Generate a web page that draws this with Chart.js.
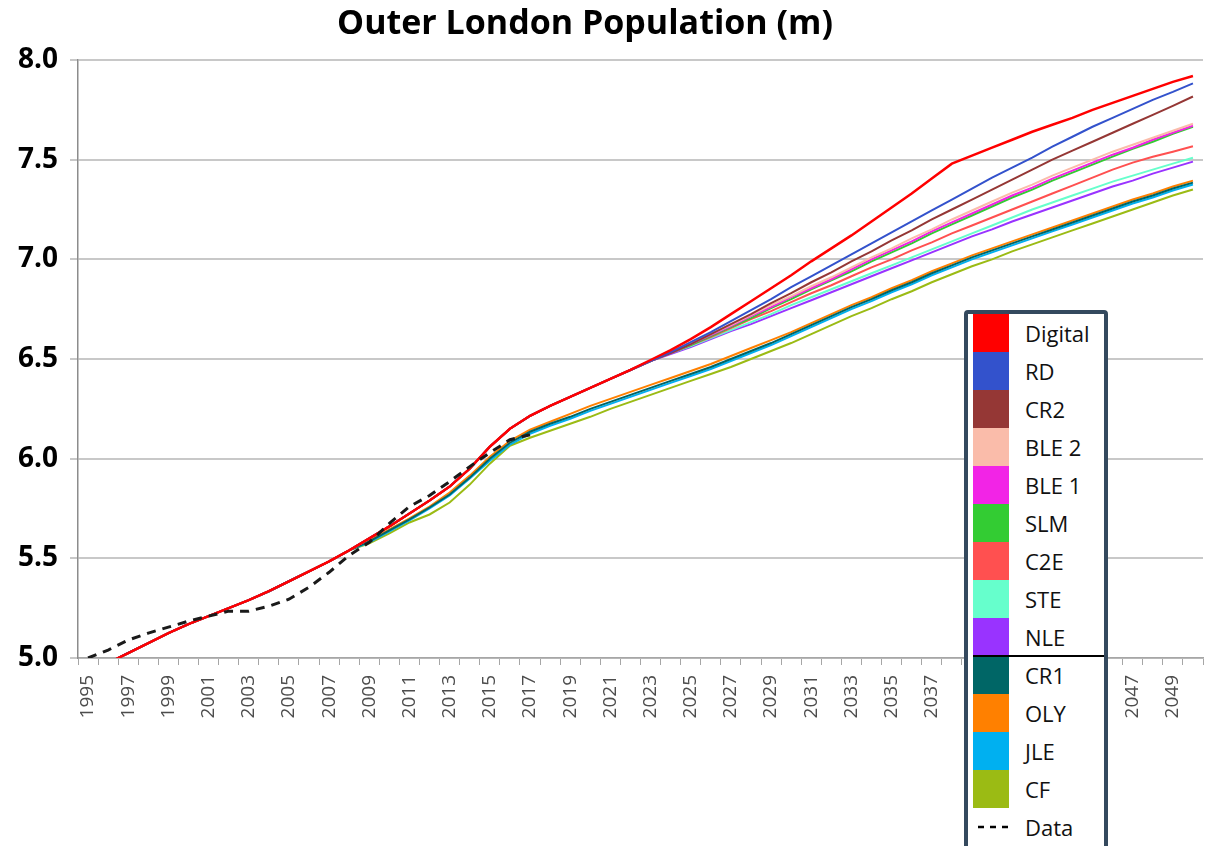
<!DOCTYPE html>
<html>
<head>
<meta charset="utf-8">
<script src="https://cdn.jsdelivr.net/npm/chart.js@4.4.0/dist/chart.umd.min.js"></script>
<style>
html,body{margin:0;padding:0;background:#fff;}
#wrap{position:relative;width:1208px;height:846px;overflow:hidden;}
#c{position:absolute;left:0;top:0;}
#legend{position:absolute;left:964px;top:310px;width:136px;height:540px;border:4px solid #34495e;border-radius:4px;background:#fff;font-family:"Open Sans",sans-serif;font-size:22px;color:#111;box-sizing:content-box;}
.row{position:absolute;left:0;width:136px;height:38px;}
.sw{position:absolute;left:5px;top:0;width:36px;height:38px;}
.tx{position:absolute;left:57px;top:0;line-height:38px;white-space:nowrap;}
.sep{position:absolute;left:5px;width:131px;height:2px;background:#000;}
</style>
</head>
<body>
<div id="wrap">
<canvas id="c" width="1208" height="846"></canvas>
<div id="legend"></div>
</div>
<script>
const titleText = "Outer London Population (m)";

const years = ["1995","1996","1997","1998","1999","2000","2001","2002","2003","2004",
"2005","2006","2007","2008","2009","2010","2011","2012","2013","2014",
"2015","2016","2017","2018","2019","2020","2021","2022","2023","2024",
"2025","2026","2027","2028","2029","2030","2031","2032","2033","2034",
"2035","2036","2037","2038","2039","2040","2041","2042","2043","2044",
"2045","2046","2047","2048","2049","2050"];

const yTicks = [5.0, 5.5, 6.0, 6.5, 7.0, 7.5, 8.0];

// Observed data (dashed)
const dataObserved = [5.00,5.04,5.09,5.125,5.155,5.185,5.21,5.235,5.235,5.26,
5.295,5.355,5.43,5.515,5.58,5.675,5.76,5.815,5.885,5.96,
6.03,6.095,6.12,null,null,null,null,null,null,null,
null,null,null,null,null,null,null,null,null,null,
null,null,null,null,null,null,null,null,null,null,
null,null,null,null,null,null];

const digital = [null,4.975,5.025,5.075,5.125,5.17,5.21,5.25,5.29,5.335,
5.385,5.435,5.485,5.54,5.60,5.66,5.725,5.79,5.86,5.95,
6.06,6.15,6.215,6.265,6.31,6.355,6.40,6.445,6.495,6.545,
6.60,6.66,6.725,6.79,6.855,6.92,6.99,7.055,7.12,7.19,
7.26,7.33,7.405,7.48,7.52,7.56,7.60,7.64,7.675,7.71,
7.75,7.785,7.82,7.855,7.89,7.92];

const rd = [null,4.975,5.025,5.075,5.125,5.17,5.21,5.25,5.29,5.335,
5.385,5.435,5.485,5.54,5.60,5.66,5.725,5.79,5.86,5.95,
6.06,6.15,6.215,6.265,6.31,6.355,6.40,6.445,6.49,6.535,
6.585,6.635,6.69,6.745,6.80,6.86,6.915,6.97,7.025,7.08,
7.135,7.19,7.245,7.30,7.355,7.41,7.46,7.51,7.565,7.615,
7.665,7.71,7.755,7.80,7.84,7.883];

const cr2 = [null,4.975,5.025,5.075,5.125,5.17,5.21,5.25,5.29,5.335,
5.385,5.435,5.485,5.54,5.60,5.66,5.725,5.79,5.86,5.95,
6.06,6.15,6.215,6.265,6.31,6.355,6.40,6.445,6.49,6.53,
6.575,6.625,6.675,6.725,6.78,6.83,6.885,6.935,6.99,7.04,
7.095,7.145,7.20,7.25,7.30,7.35,7.40,7.45,7.50,7.545,
7.59,7.635,7.68,7.725,7.77,7.817];

const ble2 = [null,4.975,5.025,5.075,5.125,5.17,5.21,5.25,5.29,5.335,
5.385,5.435,5.485,5.54,5.60,5.66,5.725,5.79,5.86,5.95,
6.06,6.15,6.215,6.265,6.31,6.355,6.40,6.445,6.49,6.535,
6.58,6.625,6.67,6.72,6.77,6.815,6.865,6.91,6.96,7.01,
7.055,7.105,7.15,7.20,7.245,7.29,7.335,7.375,7.42,7.46,
7.50,7.54,7.575,7.61,7.645,7.68];

const ble1 = [null,4.975,5.025,5.075,5.125,5.17,5.21,5.25,5.29,5.335,
5.385,5.435,5.485,5.54,5.60,5.66,5.725,5.79,5.86,5.95,
6.06,6.15,6.215,6.265,6.31,6.355,6.40,6.445,6.49,6.53,
6.575,6.62,6.665,6.715,6.76,6.81,6.855,6.90,6.95,7.00,
7.045,7.09,7.14,7.185,7.23,7.275,7.32,7.36,7.405,7.445,
7.485,7.525,7.56,7.60,7.635,7.67];

const slm = [null,4.975,5.025,5.075,5.125,5.17,5.21,5.25,5.29,5.335,
5.385,5.435,5.485,5.54,5.60,5.66,5.725,5.79,5.86,5.95,
6.06,6.15,6.215,6.265,6.31,6.355,6.40,6.445,6.49,6.53,
6.57,6.615,6.66,6.705,6.755,6.80,6.85,6.895,6.94,6.99,
7.035,7.08,7.13,7.175,7.22,7.265,7.31,7.35,7.395,7.435,
7.475,7.515,7.555,7.59,7.63,7.665];

const c2e = [null,4.975,5.025,5.075,5.125,5.17,5.21,5.25,5.29,5.335,
5.385,5.435,5.485,5.54,5.60,5.66,5.725,5.79,5.86,5.95,
6.06,6.15,6.215,6.265,6.31,6.355,6.40,6.445,6.49,6.53,
6.57,6.61,6.655,6.70,6.74,6.785,6.83,6.87,6.915,6.96,
7.00,7.045,7.085,7.13,7.17,7.21,7.25,7.29,7.33,7.37,
7.41,7.45,7.485,7.515,7.54,7.567];

const ste = [null,4.975,5.025,5.075,5.125,5.17,5.21,5.25,5.29,5.335,
5.385,5.435,5.485,5.54,5.60,5.66,5.725,5.79,5.86,5.95,
6.06,6.15,6.215,6.265,6.31,6.355,6.40,6.445,6.49,6.53,
6.565,6.605,6.645,6.685,6.725,6.77,6.81,6.85,6.89,6.93,
6.97,7.01,7.05,7.09,7.13,7.17,7.21,7.25,7.285,7.32,
7.355,7.39,7.42,7.45,7.48,7.51];

const nle = [null,4.975,5.025,5.075,5.125,5.17,5.21,5.25,5.29,5.335,
5.385,5.435,5.485,5.54,5.60,5.66,5.725,5.79,5.86,5.95,
6.06,6.15,6.215,6.265,6.31,6.355,6.40,6.445,6.49,6.525,
6.56,6.60,6.64,6.675,6.715,6.755,6.795,6.835,6.875,6.915,
6.955,6.995,7.035,7.075,7.115,7.15,7.19,7.225,7.26,7.295,
7.33,7.365,7.395,7.43,7.46,7.49];

const cr1 = [null,4.975,5.025,5.075,5.125,5.17,5.21,5.25,5.29,5.335,
5.385,5.435,5.485,5.54,5.585,5.64,5.695,5.755,5.82,5.905,
6.00,6.08,6.135,6.175,6.21,6.25,6.285,6.32,6.355,6.39,
6.425,6.46,6.50,6.54,6.58,6.625,6.67,6.715,6.76,6.80,
6.845,6.885,6.93,6.97,7.01,7.045,7.08,7.115,7.15,7.185,
7.22,7.255,7.29,7.32,7.355,7.385];

const oly = [null,4.975,5.025,5.075,5.125,5.17,5.21,5.25,5.29,5.335,
5.385,5.435,5.485,5.54,5.59,5.645,5.70,5.76,5.83,5.915,
6.01,6.09,6.145,6.185,6.225,6.265,6.30,6.335,6.37,6.405,
6.44,6.475,6.515,6.555,6.595,6.635,6.68,6.725,6.77,6.81,
6.855,6.895,6.94,6.98,7.02,7.055,7.09,7.125,7.16,7.195,
7.23,7.265,7.30,7.33,7.365,7.395];

const jle = [null,4.975,5.025,5.075,5.125,5.17,5.21,5.25,5.29,5.335,
5.385,5.435,5.485,5.54,5.58,5.635,5.69,5.75,5.815,5.90,
5.99,6.07,6.125,6.165,6.20,6.24,6.275,6.31,6.345,6.38,
6.415,6.45,6.49,6.53,6.57,6.615,6.66,6.705,6.75,6.79,
6.835,6.875,6.92,6.96,7.00,7.035,7.07,7.105,7.14,7.175,
7.21,7.245,7.28,7.31,7.345,7.375];

const cf = [null,4.975,5.025,5.075,5.125,5.17,5.21,5.25,5.29,5.335,
5.385,5.435,5.485,5.54,5.575,5.625,5.68,5.72,5.78,5.87,
5.975,6.065,6.105,6.14,6.175,6.21,6.25,6.285,6.32,6.355,
6.39,6.425,6.46,6.50,6.54,6.58,6.625,6.67,6.715,6.755,
6.80,6.84,6.885,6.925,6.965,7.00,7.04,7.075,7.11,7.145,
7.18,7.215,7.25,7.285,7.32,7.35];

const seriesNames = ["Digital","RD","CR2","BLE 2","BLE 1","SLM","C2E","STE","NLE","CR1","OLY","JLE","CF"];
const seriesValues = [digital, rd, cr2, ble2, ble1, slm, c2e, ste, nle, cr1, oly, jle, cf];
const seriesColors = ["#ff0000","#3352cc","#953735","#fabcaa","#f224e6","#33cc33","#ff5050","#66ffcc","#9933ff","#006666","#ff8000","#00b0f0","#9bbb14"];
const dataName = "Data";

const datasets = [{
  label: dataName, data: dataObserved, borderColor: "#1a1a1a", borderWidth: 3,
  borderDash: [9, 7], pointRadius: 0, fill: false, tension: 0
}];
seriesNames.forEach((n, i) => {
  datasets.push({
    label: n, data: seriesValues[i], borderColor: seriesColors[i],
    borderWidth: i === 0 ? 2.5 : 2, pointRadius: 0, fill: false, tension: 0
  });
});

const titlePlugin = {
  id: 'ttl',
  afterDraw(chart) {
    const c = chart.ctx;
    c.save();
    c.font = 'bold 34px "Open Sans"';
    c.fillStyle = '#000';
    c.textAlign = 'center';
    c.textBaseline = 'alphabetic';
    c.fillText(titleText, 585, 34);
    c.restore();
  }
};

new Chart(document.getElementById('c'), {
  type: 'line',
  data: { labels: years, datasets: datasets },
  plugins: [titlePlugin],
  options: {
    responsive: false, animation: false, events: [],
    layout: { padding: { top: 60, right: 5, bottom: 0, left: 0 } },
    plugins: { legend: { display: false }, title: { display: false }, tooltip: { enabled: false } },
    scales: {
      x: {
        type: 'category', offset: true,
        grid: { offset: true, drawOnChartArea: false, tickLength: 7, color: '#a6a6a6', lineWidth: 1 },
        border: { color: '#a6a6a6', width: 1.5 },
        ticks: {
          autoSkip: false, minRotation: 90, maxRotation: 90, padding: 10, color: '#4d4d4d',
          font: { family: '"Open Sans"', size: 19 },
          callback: function (v, i) { return i % 2 === 0 ? this.getLabelForValue(v) : ''; }
        },
        afterFit: s => { s.height = 188; s.paddingLeft = 0; s.paddingRight = 0; }
      },
      y: {
        min: yTicks[0], max: yTicks[yTicks.length - 1],
        afterBuildTicks: s => { s.ticks = yTicks.map(v => ({ value: v })); },
        ticks: {
          color: '#000', padding: 12,
          font: { family: '"Open Sans"', size: 28, weight: 'bold' },
          callback: v => Number(v).toFixed(1)
        },
        grid: { color: '#c8c8c8', lineWidth: 2, tickLength: 8 },
        border: { color: '#8c8c8c', width: 1.5 },
        afterFit: s => { s.width = 78; }
      }
    }
  }
});

// legend (built from the series arrays)
const lg = document.getElementById('legend');
seriesNames.forEach((n, i) => {
  const r = document.createElement('div');
  r.className = 'row'; r.style.top = (i * 38) + 'px';
  r.innerHTML = '<div class="sw" style="background:' + seriesColors[i] + '"></div><div class="tx">' + n + '</div>';
  lg.appendChild(r);
});
const sep = document.createElement('div');
sep.className = 'sep'; sep.style.top = (9 * 38 - 1) + 'px';
lg.appendChild(sep);
const dr = document.createElement('div');
dr.className = 'row'; dr.style.top = (13 * 38) + 'px';
dr.innerHTML = '<svg style="position:absolute;left:10px;top:17px" width="32" height="4"><line x1="0" y1="2" x2="32" y2="2" stroke="#000" stroke-width="2.5" stroke-dasharray="6,6"/></svg><div class="tx">' + dataName + '</div>';
lg.appendChild(dr);
</script>
</body>
</html>
